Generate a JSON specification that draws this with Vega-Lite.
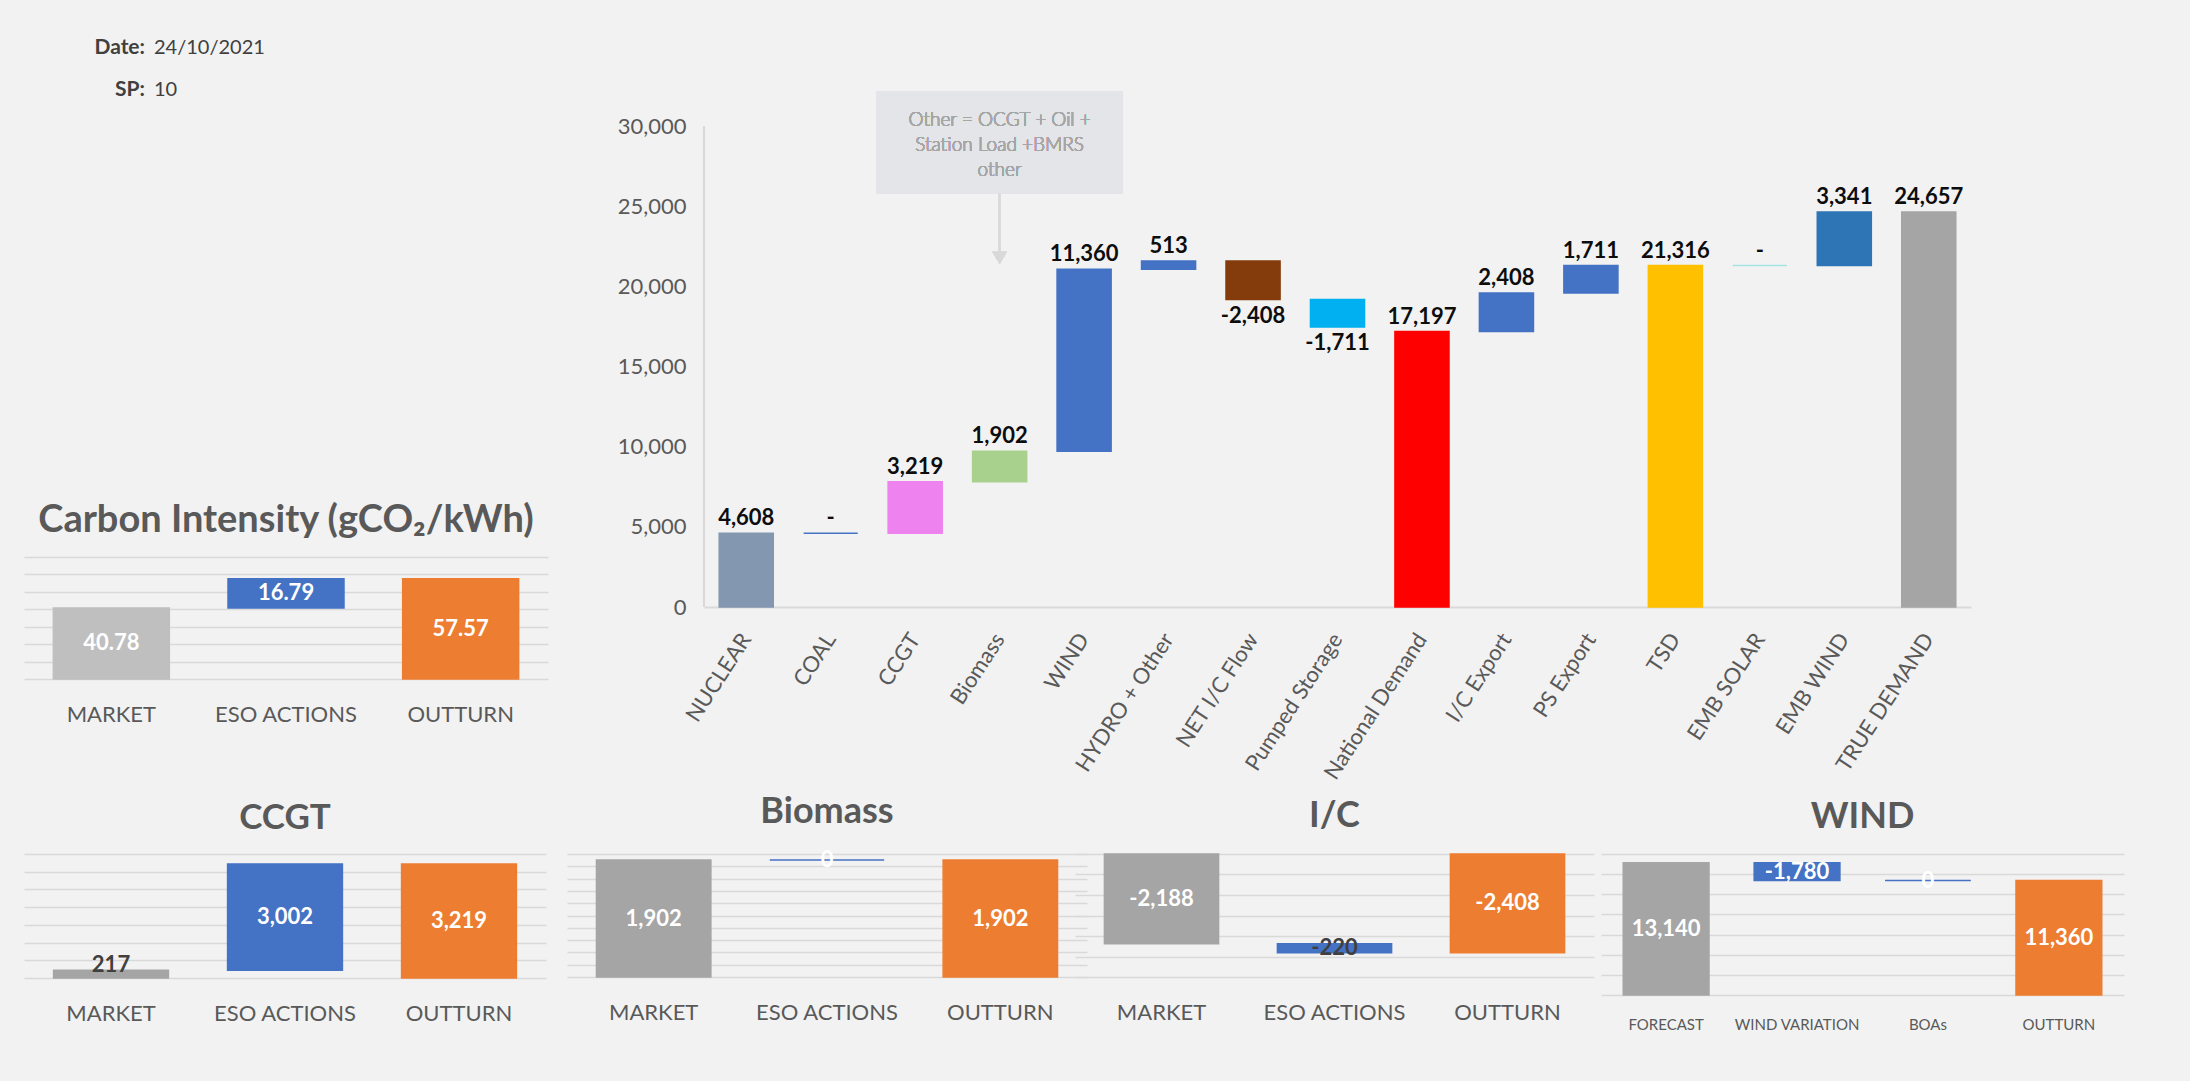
{
  "$schema": "https://vega.github.io/schema/vega-lite/v6.json",
  "background": "#F2F2F2",
  "padding": {"left": 24, "top": 27, "right": 80, "bottom": 60},
  "config": {"font": "Lato", "view": {"stroke": null}},
  "bounds": "flush",
  "spacing": 827,
  "resolve": {"scale": {"color": "independent", "stroke": "independent"}},
  "vconcat": [
    {
      "bounds": "flush",
      "spacing": 680,
      "resolve": {"scale": {"color": "independent", "stroke": "independent"}},
      "hconcat": [
        {
          "bounds": "flush",
          "spacing": 446,
          "resolve": {"scale": {"color": "independent", "stroke": "independent"}},
          "vconcat": [
            {
              "width": 251,
              "height": 84,
              "data": {"values": [{"k": "Date:", "v": "24/10/2021"}, {"k": "SP:", "v": "10"}]},
              "encoding": {"y": {"field": "k", "type": "nominal", "sort": null, "scale": {"type": "point", "padding": 0.5}, "axis": null}},
              "layer": [
                {
                  "mark": {"type": "text", "align": "right", "baseline": "middle", "fontSize": 21, "fontWeight": "bold", "color": "#404040"},
                  "encoding": {
                    "x": {"datum": "key", "type": "nominal", "bandPosition": 1, "scale": {"type": "band", "domain": ["key", "value"], "paddingInner": 0.0692, "paddingOuter": 0}, "axis": null},
                    "text": {"field": "k"}
                  }
                },
                {
                  "mark": {"type": "text", "align": "left", "baseline": "middle", "fontSize": 20, "color": "#404040"},
                  "encoding": {
                    "x": {"datum": "value", "type": "nominal", "bandPosition": 0, "axis": null},
                    "text": {"field": "v"}
                  }
                }
              ]
            },
            {
              "width": 524,
              "height": 122,
              "title": {"text": "Carbon Intensity (gCO₂/kWh)", "fontSize": 38, "fontWeight": "bold", "color": "#595959", "offset": 17, "anchor": "middle", "frame": "group"},
              "data": {"values": [
                {"cat": "MARKET", "start": 0, "end": 40.78, "label": "40.78"},
                {"cat": "ESO ACTIONS", "start": 40.78, "end": 57.57, "label": "16.79"},
                {"cat": "OUTTURN", "start": 0, "end": 57.57, "label": "57.57"}
              ]},
              "encoding": {"x": {"field": "cat", "type": "nominal", "sort": null, "scale": {"domain": ["MARKET", "ESO ACTIONS", "OUTTURN"], "paddingInner": 0.336, "paddingOuter": 0.168}, "axis": {"title": null, "labelAngle": 0, "labelFontSize": 22, "labelColor": "#595959", "ticks": false, "domain": false, "labelPadding": 25}}},
              "layer": [
                {
                  "mark": {"type": "bar", "strokeWidth": 1.5},
                  "encoding": {
                    "y": {"field": "start", "type": "quantitative", "title": null, "scale": {"domain": [0, 70], "nice": false}, "axis": {"title": null, "values": [0, 10, 20, 30, 40, 50, 60, 70], "labels": false, "ticks": false, "domain": false, "grid": true, "gridColor": "#D9D9D9", "gridWidth": 1.5}},
                    "y2": {"field": "end"},
                    "color": {"field": "cat", "type": "nominal", "scale": {"domain": ["MARKET", "ESO ACTIONS", "OUTTURN"], "range": ["#BFBFBF", "#4472C4", "#ED7D31"]}, "legend": null},
                    "stroke": {"field": "cat", "type": "nominal", "scale": {"domain": ["MARKET", "ESO ACTIONS", "OUTTURN"], "range": ["#BFBFBF", "#4472C4", "#ED7D31"]}, "legend": null}
                  }
                },
                {
                  "transform": [{"fold": ["start", "end"], "as": ["k", "v"]}],
                  "mark": {"type": "text", "fontSize": 22, "fontWeight": "bold", "color": "#FFFFFF", "baseline": "middle"},
                  "encoding": {"y": {"aggregate": "mean", "field": "v", "type": "quantitative", "title": null, "axis": {"title": null, "values": [0, 10, 20, 30, 40, 50, 60, 70], "labels": false, "ticks": false, "domain": false, "grid": true, "gridColor": "#D9D9D9", "gridWidth": 1.5}}, "text": {"field": "label"}}
                }
              ]
            }
          ]
        },
        {
          "width": 1267,
          "height": 580,
          "data": {"values": [
            {"cat": "NUCLEAR", "start": 0, "end": 4608, "label": "4,608"},
            {"cat": "COAL", "start": 4608, "end": 4608, "label": "-"},
            {"cat": "CCGT", "start": 4608, "end": 7827, "label": "3,219"},
            {"cat": "Biomass", "start": 7827, "end": 9729, "label": "1,902"},
            {"cat": "WIND", "start": 9729, "end": 21089, "label": "11,360"},
            {"cat": "HYDRO + Other", "start": 21089, "end": 21602, "label": "513"},
            {"cat": "NET I/C Flow", "start": 21602, "end": 19194, "label": "-2,408"},
            {"cat": "Pumped Storage", "start": 19194, "end": 17483, "label": "-1,711"},
            {"cat": "National Demand", "start": 0, "end": 17197, "label": "17,197"},
            {"cat": "I/C Export", "start": 17197, "end": 19605, "label": "2,408"},
            {"cat": "PS Export", "start": 19605, "end": 21316, "label": "1,711"},
            {"cat": "TSD", "start": 0, "end": 21316, "label": "21,316"},
            {"cat": "EMB SOLAR", "start": 21316, "end": 21316, "label": "-"},
            {"cat": "EMB WIND", "start": 21316, "end": 24657, "label": "3,341"},
            {"cat": "TRUE DEMAND", "start": 0, "end": 24657, "label": "24,657"}
          ]},
          "layer": [
            {
              "mark": {"type": "bar", "strokeWidth": 1.5},
              "encoding": {
                "x": {"field": "cat", "type": "nominal", "sort": null,
                  "scale": {"domain": ["NUCLEAR", "COAL", "CCGT", "Biomass", "WIND", "HYDRO + Other", "NET I/C Flow", "Pumped Storage", "National Demand", "I/C Export", "PS Export", "TSD", "EMB SOLAR", "EMB WIND", "TRUE DEMAND"], "paddingInner": 0.36, "paddingOuter": 0.18},
                  "axis": {"title": null, "labelAngle": -57, "labelFontSize": 22, "labelColor": "#595959", "ticks": false, "domain": true, "domainColor": "#D9D9D9", "domainWidth": 2, "labelPadding": 28, "labelOverlap": false, "labelLimit": 400}},
                "y": {"field": "start", "type": "quantitative", "title": null, "scale": {"domain": [0, 36212], "nice": false}, "axis": {"title": null, "values": [0, 5000, 10000, 15000, 20000, 25000, 30000], "labelExpr": "format(datum.value, ',')", "labelFontSize": 22, "labelColor": "#595959", "ticks": false, "domain": false, "grid": false, "labelPadding": 18}},
                "y2": {"field": "end"},
                "color": {"field": "cat", "type": "nominal", "scale": {"domain": ["NUCLEAR", "COAL", "CCGT", "Biomass", "WIND", "HYDRO + Other", "NET I/C Flow", "Pumped Storage", "National Demand", "I/C Export", "PS Export", "TSD", "EMB SOLAR", "EMB WIND", "TRUE DEMAND"], "range": ["#8497B0", "#4472C4", "#EE82EE", "#A9D18E", "#4472C4", "#4472C4", "#843C0C", "#00B0F0", "#FF0000", "#4472C4", "#4472C4", "#FFC000", "#A6E3E3", "#2E75B6", "#A5A5A5"]}, "legend": null},
                "stroke": {"field": "cat", "type": "nominal", "scale": {"domain": ["NUCLEAR", "COAL", "CCGT", "Biomass", "WIND", "HYDRO + Other", "NET I/C Flow", "Pumped Storage", "National Demand", "I/C Export", "PS Export", "TSD", "EMB SOLAR", "EMB WIND", "TRUE DEMAND"], "range": ["#8497B0", "#4472C4", "#EE82EE", "#A9D18E", "#4472C4", "#4472C4", "#843C0C", "#00B0F0", "#FF0000", "#4472C4", "#4472C4", "#FFC000", "#A6E3E3", "#2E75B6", "#A5A5A5"]}, "legend": null}
              }
            },
            {
              "transform": [{"filter": "datum.end >= datum.start"}],
              "mark": {"type": "text", "baseline": "bottom", "dy": -3, "fontSize": 22, "fontWeight": "bold", "color": "#0D0D0D"},
              "encoding": {
                "x": {"field": "cat", "type": "nominal", "sort": null},
                "y": {"field": "end", "type": "quantitative", "title": null, "axis": {"title": null, "values": [0, 5000, 10000, 15000, 20000, 25000, 30000], "labelExpr": "format(datum.value, ',')", "labelFontSize": 22, "labelColor": "#595959", "ticks": false, "domain": false, "grid": false, "labelPadding": 18}},
                "text": {"field": "label"}
              }
            },
            {
              "transform": [{"filter": "datum.end < datum.start"}],
              "mark": {"type": "text", "baseline": "top", "dy": 6, "fontSize": 22, "fontWeight": "bold", "color": "#0D0D0D"},
              "encoding": {
                "x": {"field": "cat", "type": "nominal", "sort": null},
                "y": {"field": "end", "type": "quantitative", "title": null, "axis": {"title": null, "values": [0, 5000, 10000, 15000, 20000, 25000, 30000], "labelExpr": "format(datum.value, ',')", "labelFontSize": 22, "labelColor": "#595959", "ticks": false, "domain": false, "grid": false, "labelPadding": 18}},
                "text": {"field": "label"}
              }
            },
            {
              "mark": {"type": "rule", "color": "#D9D9D9", "strokeWidth": 1.5},
              "encoding": {
                "x": {"datum": "NUCLEAR", "type": "nominal", "bandPosition": -0.2812},
                "y": {"datum": 0, "type": "quantitative", "title": null, "axis": {"title": null, "values": [0, 5000, 10000, 15000, 20000, 25000, 30000], "labelExpr": "format(datum.value, ',')", "labelFontSize": 22, "labelColor": "#595959", "ticks": false, "domain": false, "grid": false, "labelPadding": 18}},
                "y2": {"datum": 30000}
              }
            },
            {
              "mark": {"type": "bar", "width": 246, "color": "#E4E5E8"},
              "encoding": {
                "x": {"datum": "Biomass", "type": "nominal"},
                "y": {"datum": 25805, "type": "quantitative", "title": null, "axis": {"title": null, "values": [0, 5000, 10000, 15000, 20000, 25000, 30000], "labelExpr": "format(datum.value, ',')", "labelFontSize": 22, "labelColor": "#595959", "ticks": false, "domain": false, "grid": false, "labelPadding": 18}},
                "y2": {"datum": 32210}
              }
            },
            {
              "mark": {"type": "text", "fontSize": 19, "fontWeight": 300, "color": "#A6A6A6", "lineHeight": 25, "baseline": "middle", "text": ["Other = OCGT + Oil +", "Station Load +BMRS", "other"]},
              "encoding": {
                "x": {"datum": "Biomass", "type": "nominal"},
                "y": {"datum": 30430, "type": "quantitative", "title": null, "axis": {"title": null, "values": [0, 5000, 10000, 15000, 20000, 25000, 30000], "labelExpr": "format(datum.value, ',')", "labelFontSize": 22, "labelColor": "#595959", "ticks": false, "domain": false, "grid": false, "labelPadding": 18}}
              }
            },
            {
              "mark": {"type": "rule", "color": "#D9D9D9", "strokeWidth": 1.5},
              "encoding": {
                "x": {"datum": "Biomass", "type": "nominal"},
                "y": {"datum": 25805, "type": "quantitative", "title": null, "axis": {"title": null, "values": [0, 5000, 10000, 15000, 20000, 25000, 30000], "labelExpr": "format(datum.value, ',')", "labelFontSize": 22, "labelColor": "#595959", "ticks": false, "domain": false, "grid": false, "labelPadding": 18}},
                "y2": {"datum": 21900}
              }
            },
            {
              "mark": {"type": "point", "shape": "triangle-down", "filled": true, "size": 200, "color": "#D9D9D9", "opacity": 1},
              "encoding": {
                "x": {"datum": "Biomass", "type": "nominal"},
                "y": {"datum": 21790, "type": "quantitative", "title": null, "axis": {"title": null, "values": [0, 5000, 10000, 15000, 20000, 25000, 30000], "labelExpr": "format(datum.value, ',')", "labelFontSize": 22, "labelColor": "#595959", "ticks": false, "domain": false, "grid": false, "labelPadding": 18}}
              }
            }
          ]
        }
      ]
    },
    {
      "bounds": "flush",
      "spacing": 1051,
      "resolve": {"scale": {"color": "independent", "stroke": "independent"}},
      "hconcat": [
        {
          "bounds": "flush",
          "spacing": 21,
          "resolve": {"scale": {"color": "independent", "stroke": "independent"}},
          "hconcat": [
            {
              "width": 522,
              "height": 124,
              "title": {"text": "CCGT", "fontSize": 35, "fontWeight": "bold", "color": "#595959", "offset": 18, "anchor": "middle", "frame": "group"},
              "data": {"values": [
                {"cat": "MARKET", "start": 0, "end": 217, "label": "217"},
                {"cat": "ESO ACTIONS", "start": 217, "end": 3219, "label": "3,002"},
                {"cat": "OUTTURN", "start": 0, "end": 3219, "label": "3,219"}
              ]},
              "encoding": {"x": {"field": "cat", "type": "nominal", "sort": null, "scale": {"domain": ["MARKET", "ESO ACTIONS", "OUTTURN"], "paddingInner": 0.34, "paddingOuter": 0.17}, "axis": {"title": null, "labelAngle": 0, "labelFontSize": 22, "labelColor": "#595959", "ticks": false, "domain": false, "labelPadding": 25}}},
              "layer": [
                {
                  "mark": {"type": "bar", "strokeWidth": 1.5},
                  "encoding": {
                    "y": {"field": "start", "type": "quantitative", "title": null, "scale": {"domain": [0, 3500], "nice": false}, "axis": {"title": null, "values": [0, 500, 1000, 1500, 2000, 2500, 3000, 3500], "labels": false, "ticks": false, "domain": false, "grid": true, "gridColor": "#D9D9D9", "gridWidth": 1.5}},
                    "y2": {"field": "end"},
                    "color": {"field": "cat", "type": "nominal", "scale": {"domain": ["MARKET", "ESO ACTIONS", "OUTTURN"], "range": ["#A5A5A5", "#4472C4", "#ED7D31"]}, "legend": null},
                    "stroke": {"field": "cat", "type": "nominal", "scale": {"domain": ["MARKET", "ESO ACTIONS", "OUTTURN"], "range": ["#A5A5A5", "#4472C4", "#ED7D31"]}, "legend": null}
                  }
                },
                {
                  "transform": [{"filter": "datum.cat !== 'MARKET'"}, {"fold": ["start", "end"], "as": ["k", "v"]}],
                  "mark": {"type": "text", "fontSize": 22, "fontWeight": "bold", "color": "#FFFFFF", "baseline": "middle"},
                  "encoding": {"y": {"aggregate": "mean", "field": "v", "type": "quantitative", "title": null, "axis": {"title": null, "values": [0, 500, 1000, 1500, 2000, 2500, 3000, 3500], "labels": false, "ticks": false, "domain": false, "grid": true, "gridColor": "#D9D9D9", "gridWidth": 1.5}}, "text": {"field": "label"}}
                },
                {
                  "transform": [{"filter": "datum.cat === 'MARKET'"}],
                  "mark": {"type": "text", "fontSize": 22, "fontWeight": "bold", "color": "#404040", "baseline": "middle", "dy": -5},
                  "encoding": {"y": {"field": "end", "type": "quantitative", "title": null, "axis": {"title": null, "values": [0, 500, 1000, 1500, 2000, 2500, 3000, 3500], "labels": false, "ticks": false, "domain": false, "grid": true, "gridColor": "#D9D9D9", "gridWidth": 1.5}}, "text": {"field": "label"}}
                }
              ]
            },
            {
              "width": 520,
              "height": 123,
              "title": {"text": "Biomass", "fontSize": 36, "fontWeight": "bold", "color": "#595959", "offset": 18, "anchor": "middle", "frame": "group"},
              "data": {"values": [
                {"cat": "MARKET", "start": 0, "end": 1902, "label": "1,902"},
                {"cat": "ESO ACTIONS", "start": 1902, "end": 1902, "label": "0"},
                {"cat": "OUTTURN", "start": 0, "end": 1902, "label": "1,902"}
              ]},
              "encoding": {"x": {"field": "cat", "type": "nominal", "sort": null, "scale": {"domain": ["MARKET", "ESO ACTIONS", "OUTTURN"], "paddingInner": 0.34, "paddingOuter": 0.17}, "axis": {"title": null, "labelAngle": 0, "labelFontSize": 22, "labelColor": "#595959", "ticks": false, "domain": false, "labelPadding": 25}}},
              "layer": [
                {
                  "mark": {"type": "bar", "strokeWidth": 1.5},
                  "encoding": {
                    "y": {"field": "start", "type": "quantitative", "title": null, "scale": {"domain": [0, 2000], "nice": false}, "axis": {"title": null, "values": [0, 200, 400, 600, 800, 1000, 1200, 1400, 1600, 1800, 2000], "labels": false, "ticks": false, "domain": false, "grid": true, "gridColor": "#D9D9D9", "gridWidth": 1.5}},
                    "y2": {"field": "end"},
                    "color": {"field": "cat", "type": "nominal", "scale": {"domain": ["MARKET", "ESO ACTIONS", "OUTTURN"], "range": ["#A5A5A5", "#4472C4", "#ED7D31"]}, "legend": null},
                    "stroke": {"field": "cat", "type": "nominal", "scale": {"domain": ["MARKET", "ESO ACTIONS", "OUTTURN"], "range": ["#A5A5A5", "#4472C4", "#ED7D31"]}, "legend": null}
                  }
                },
                {
                  "transform": [{"fold": ["start", "end"], "as": ["k", "v"]}],
                  "mark": {"type": "text", "fontSize": 22, "fontWeight": "bold", "color": "#FFFFFF", "baseline": "middle"},
                  "encoding": {"y": {"aggregate": "mean", "field": "v", "type": "quantitative", "title": null, "axis": {"title": null, "values": [0, 200, 400, 600, 800, 1000, 1200, 1400, 1600, 1800, 2000], "labels": false, "ticks": false, "domain": false, "grid": true, "gridColor": "#D9D9D9", "gridWidth": 1.5}}, "text": {"field": "label"}}
                }
              ]
            }
          ]
        },
        {
          "bounds": "flush",
          "spacing": 7,
          "resolve": {"scale": {"color": "independent", "stroke": "independent"}},
          "hconcat": [
            {
              "width": 519,
              "height": 123,
              "title": {"text": "I/C", "fontSize": 36, "fontWeight": "bold", "color": "#595959", "offset": 18, "anchor": "middle", "frame": "group"},
              "data": {"values": [
                {"cat": "MARKET", "start": 0, "end": -2188, "label": "-2,188"},
                {"cat": "ESO ACTIONS", "start": -2188, "end": -2408, "label": "-220"},
                {"cat": "OUTTURN", "start": 0, "end": -2408, "label": "-2,408"}
              ]},
              "encoding": {"x": {"field": "cat", "type": "nominal", "sort": null, "scale": {"domain": ["MARKET", "ESO ACTIONS", "OUTTURN"], "paddingInner": 0.34, "paddingOuter": 0.17}, "axis": {"title": null, "labelAngle": 0, "labelFontSize": 22, "labelColor": "#595959", "ticks": false, "domain": false, "labelPadding": 25}}},
              "layer": [
                {
                  "mark": {"type": "bar", "strokeWidth": 1.5},
                  "encoding": {
                    "y": {"field": "start", "type": "quantitative", "title": null, "scale": {"domain": [-3000, 0], "nice": false, "zero": false}, "axis": {"title": null, "values": [-3000, -2500, -2000, -1500, -1000, -500, 0], "labels": false, "ticks": false, "domain": false, "grid": true, "gridColor": "#D9D9D9", "gridWidth": 1.5}},
                    "y2": {"field": "end"},
                    "color": {"field": "cat", "type": "nominal", "scale": {"domain": ["MARKET", "ESO ACTIONS", "OUTTURN"], "range": ["#A5A5A5", "#4472C4", "#ED7D31"]}, "legend": null},
                    "stroke": {"field": "cat", "type": "nominal", "scale": {"domain": ["MARKET", "ESO ACTIONS", "OUTTURN"], "range": ["#A5A5A5", "#4472C4", "#ED7D31"]}, "legend": null}
                  }
                },
                {
                  "transform": [{"fold": ["start", "end"], "as": ["k", "v"]}],
                  "mark": {"type": "text", "fontSize": 22, "fontWeight": "bold", "baseline": "middle"},
                  "encoding": {
                    "y": {"aggregate": "mean", "field": "v", "type": "quantitative", "title": null, "axis": {"title": null, "values": [-3000, -2500, -2000, -1500, -1000, -500, 0], "labels": false, "ticks": false, "domain": false, "grid": true, "gridColor": "#D9D9D9", "gridWidth": 1.5}},
                    "text": {"field": "label"},
                    "color": {"condition": {"test": "datum.cat === 'ESO ACTIONS'", "value": "#404040"}, "value": "#FFFFFF"}
                  }
                }
              ]
            },
            {
              "width": 523,
              "height": 141,
              "title": {"text": "WIND", "fontSize": 36, "fontWeight": "bold", "color": "#595959", "offset": 18, "anchor": "middle", "frame": "group"},
              "data": {"values": [
                {"cat": "FORECAST", "start": 0, "end": 13140, "label": "13,140"},
                {"cat": "WIND VARIATION", "start": 13140, "end": 11360, "label": "-1,780"},
                {"cat": "BOAs", "start": 11360, "end": 11360, "label": "0"},
                {"cat": "OUTTURN", "start": 0, "end": 11360, "label": "11,360"}
              ]},
              "encoding": {"x": {"field": "cat", "type": "nominal", "sort": null, "scale": {"domain": ["FORECAST", "WIND VARIATION", "BOAs", "OUTTURN"], "paddingInner": 0.345, "paddingOuter": 0.17}, "axis": {"title": null, "labelAngle": 0, "labelFontSize": 15, "labelColor": "#595959", "ticks": false, "domain": false, "labelPadding": 22}}},
              "layer": [
                {
                  "mark": {"type": "bar", "strokeWidth": 1.5},
                  "encoding": {
                    "y": {"field": "start", "type": "quantitative", "title": null, "scale": {"domain": [0, 14000], "nice": false}, "axis": {"title": null, "values": [0, 2000, 4000, 6000, 8000, 10000, 12000, 14000], "labels": false, "ticks": false, "domain": false, "grid": true, "gridColor": "#D9D9D9", "gridWidth": 1.5}},
                    "y2": {"field": "end"},
                    "color": {"field": "cat", "type": "nominal", "scale": {"domain": ["FORECAST", "WIND VARIATION", "BOAs", "OUTTURN"], "range": ["#A5A5A5", "#4472C4", "#4472C4", "#ED7D31"]}, "legend": null},
                    "stroke": {"field": "cat", "type": "nominal", "scale": {"domain": ["FORECAST", "WIND VARIATION", "BOAs", "OUTTURN"], "range": ["#A5A5A5", "#4472C4", "#4472C4", "#ED7D31"]}, "legend": null}
                  }
                },
                {
                  "transform": [{"fold": ["start", "end"], "as": ["k", "v"]}],
                  "mark": {"type": "text", "fontSize": 22, "fontWeight": "bold", "color": "#FFFFFF", "baseline": "middle"},
                  "encoding": {"y": {"aggregate": "mean", "field": "v", "type": "quantitative", "title": null, "axis": {"title": null, "values": [0, 2000, 4000, 6000, 8000, 10000, 12000, 14000], "labels": false, "ticks": false, "domain": false, "grid": true, "gridColor": "#D9D9D9", "gridWidth": 1.5}}, "text": {"field": "label"}}
                }
              ]
            }
          ]
        }
      ]
    }
  ]
}
